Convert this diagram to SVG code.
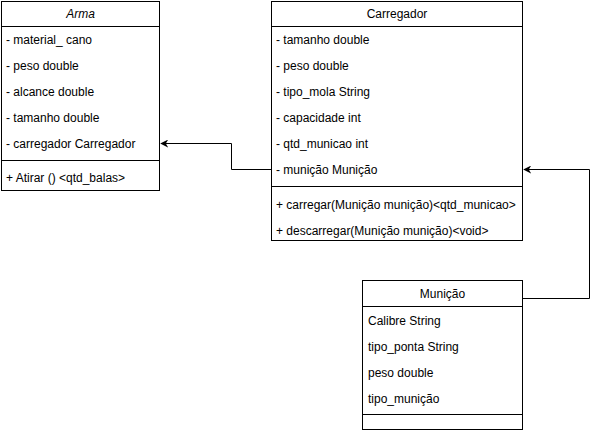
<svg xmlns="http://www.w3.org/2000/svg" width="599" height="431" viewBox="0 0 599 431">
<style>
.box{fill:#fff;stroke:#000;stroke-width:1}
.ln{stroke:#000;stroke-width:1;fill:none}
text{font-family:"Liberation Sans",Arial,sans-serif;font-size:12px;fill:#000}
.t{text-anchor:middle}
.i{font-style:italic}
.c{stroke:#000;stroke-width:1;fill:none}
</style>
<defs>
<marker id="arr" viewBox="0 0 10 10" refX="9" refY="5" markerWidth="8" markerHeight="8" markerUnits="userSpaceOnUse" orient="auto">
<path d="M0,0 L10,5 L0,10 L3,5 Z" fill="#000"/>
</marker>
</defs>
<g id="Arma">
<rect class="box" x="1.5" y="1.5" width="158" height="189"/>
<line class="ln" x1="1.5" y1="26.5" x2="159.5" y2="26.5"/>
<line class="ln" x1="1.5" y1="160.5" x2="159.5" y2="160.5"/>
<text class="t i" x="80.5" y="18">Arma</text>
<text x="6" y="44">- material_ cano</text>
<text x="6" y="70">- peso double</text>
<text x="6" y="96">- alcance double</text>
<text x="6" y="122">- tamanho double</text>
<text x="6" y="148">- carregador Carregador</text>
<text x="6" y="182">+ Atirar () &lt;qtd_balas&gt;</text>
</g>
<g id="Carregador">
<rect class="box" x="271.5" y="1.5" width="251" height="239"/>
<line class="ln" x1="271.5" y1="26.5" x2="522.5" y2="26.5"/>
<line class="ln" x1="271.5" y1="186.5" x2="522.5" y2="186.5"/>
<text class="t" x="397" y="18">Carregador</text>
<text x="276" y="44">- tamanho double</text>
<text x="276" y="70">- peso double</text>
<text x="276" y="96">- tipo_mola String</text>
<text x="276" y="122">- capacidade int</text>
<text x="276" y="148">- qtd_municao int</text>
<text x="276" y="174">- munição Munição</text>
<text x="276" y="209">+ carregar(Munição munição)&lt;qtd_municao&gt;</text>
<text x="276" y="235">+ descarregar(Munição munição)&lt;void&gt;</text>
</g>
<g id="Municao">
<rect class="box" x="362.5" y="280.5" width="160" height="149"/>
<line class="ln" x1="362.5" y1="306.5" x2="522.5" y2="306.5"/>
<line class="ln" x1="362.5" y1="414.5" x2="522.5" y2="414.5"/>
<text class="t" x="442.5" y="298">Munição</text>
<text x="368" y="325">Calibre String</text>
<text x="368" y="351">tipo_ponta String</text>
<text x="368" y="377">peso double</text>
<text x="368" y="403">tipo_munição</text>
</g>
<g id="connectors">
<path class="c" d="M271.5,169.5 H231.5 V143.5 H161" marker-end="url(#arr)"/>
<path class="c" d="M522.5,298.5 H589.5 V169.5 H524" marker-end="url(#arr)"/>
</g>
</svg>
